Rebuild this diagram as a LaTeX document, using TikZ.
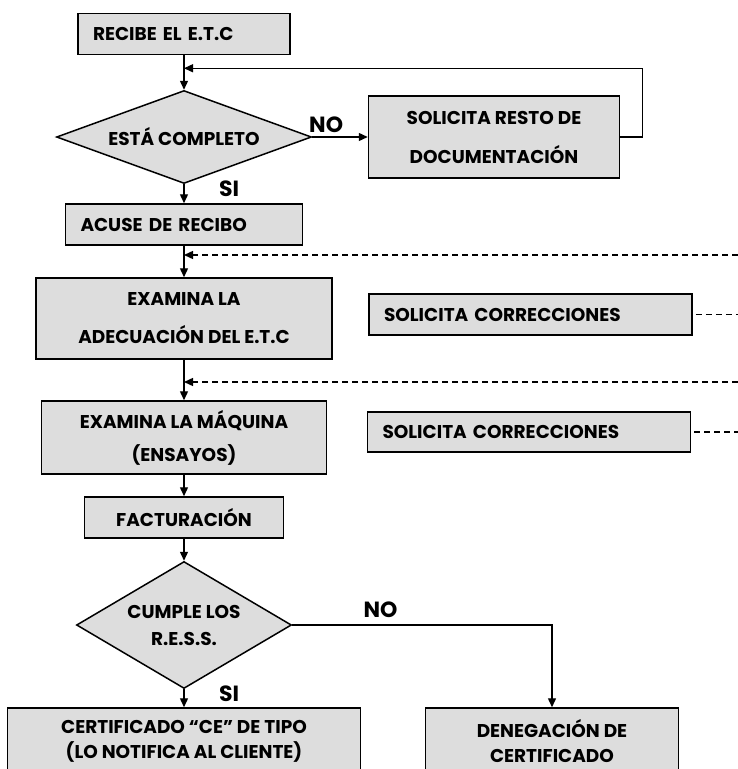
\documentclass[tikz,border=0pt]{standalone}
\usepackage{fontspec}
\setmainfont{Poppins}
\usetikzlibrary{shapes.geometric, arrows.meta}
\definecolor{boxgray}{RGB}{221,221,221}
\tikzstyle{process} = [rectangle, minimum height=41pt, draw=black,
line width=1.5pt, fill=boxgray, align=center, inner xsep=15pt,
font=\bfseries\fontsize{18.5}{22}\selectfont]
\tikzstyle{leftbox} = [process, align=left]
\tikzstyle{decision} = [diamond, draw=black, line width=1.5pt, fill=boxgray,
inner sep=0pt, align=center, font=\bfseries\fontsize{18.5}{22}\selectfont]
\tikzstyle{answer} = [font=\bfseries\fontsize{22}{24}\selectfont]
\tikzstyle{arrow} = [line width=1.4pt, -{Triangle[length=9pt,width=8pt]}]
\tikzstyle{back} = [arrow, dash pattern=on 6pt off 4pt]

\begin{document}
\begin{tikzpicture}
\useasboundingbox (0,0) rectangle (738pt,-769pt);

\node(recibe)[leftbox, text width=182pt] at (184pt,-34pt){RECIBE EL E.T.C};
\node(completo)[decision, below of=recibe, node distance=103pt, aspect=2.74,
minimum width=255pt, minimum height=93pt]{ESTÁ COMPLETO};
\node(resto)[process, right of=completo, node distance=310pt,
minimum width=251pt, minimum height=82pt]{SOLICITA RESTO DE\\[17pt]DOCUMENTACIÓN};
\node(acuse)[leftbox, below of=completo, node distance=87.5pt,
text width=207pt]{ACUSE DE RECIBO};
\node(adecuacion)[process, below of=acuse, node distance=94pt,
minimum width=296pt, minimum height=81pt]{EXAMINA LA\\[16pt]ADECUACIÓN DEL E.T.C};
\node(maquina)[process, below of=adecuacion, node distance=119pt,
minimum width=285pt, minimum height=73pt]{EXAMINA LA MÁQUINA\\[11pt](ENSAYOS)};
\node(facturacion)[process, below of=maquina, node distance=80pt,
minimum width=199pt]{FACTURACIÓN};
\node(cumple)[decision, below of=facturacion, node distance=107.5pt, aspect=1.69,
minimum width=215pt, minimum height=127pt]{CUMPLE LOS\\[5pt]R.E.S.S.};
\node(certificado)[process, below of=cumple, node distance=116pt,
minimum width=353pt, minimum height=66pt]{CERTIFICADO “CE” DE TIPO\\[3pt](LO NOTIFICA AL CLIENTE)};
\node(denegacion)[process, right of=certificado, node distance=368pt,
minimum width=253pt, minimum height=66pt]{DENEGACIÓN DE\\[3pt]CERTIFICADO};

\node(corr1)[leftbox, right of=adecuacion, node distance=346.5pt, yshift=4pt,
text width=293pt]{SOLICITA CORRECCIONES};
\node(corr2)[leftbox, right of=maquina, node distance=345pt, yshift=5.5pt,
text width=293pt, minimum height=40pt]{SOLICITA CORRECCIONES};

% borde derecho para las lineas discontinuas
\coordinate(rim) at (738pt,0);
\coordinate(vuelta1) at (738pt,-255pt);
\coordinate(vuelta2) at (738pt,-382pt);

\draw[arrow](recibe) -- (completo);
\draw[arrow](completo) -- node[answer, near start, above]{NO}(completo -| resto.west);
\draw[arrow](completo) -- node[answer, near start, right, xshift=31pt]{SI}(acuse);
\draw[arrow](resto.east) -- ++(22pt,0) |- ([yshift=-13pt]recibe.south);

\draw[arrow](acuse) -- (adecuacion);
\draw[arrow](adecuacion) -- (maquina);
\draw[arrow](maquina) -- (facturacion);
\draw[arrow](facturacion) -- (cumple);
\draw[arrow](cumple) -- node[answer, near start, right, xshift=31pt]{SI}(certificado);
\draw[arrow](cumple) -| node[answer, pos=0.17, above, yshift=3pt]{NO}(denegacion);

\draw[back](vuelta1) -- (acuse.south |- vuelta1);
\draw[back](vuelta2) -- (adecuacion.south |- vuelta2);
\draw[dash pattern=on 6pt off 4pt, line width=1.4pt]([xshift=3pt]corr1.east) -- (corr1.east -| rim);
\draw[dash pattern=on 6pt off 4pt, line width=1.4pt]([xshift=3pt]corr2.east) -- (corr2.east -| rim);

\end{tikzpicture}
\end{document}
